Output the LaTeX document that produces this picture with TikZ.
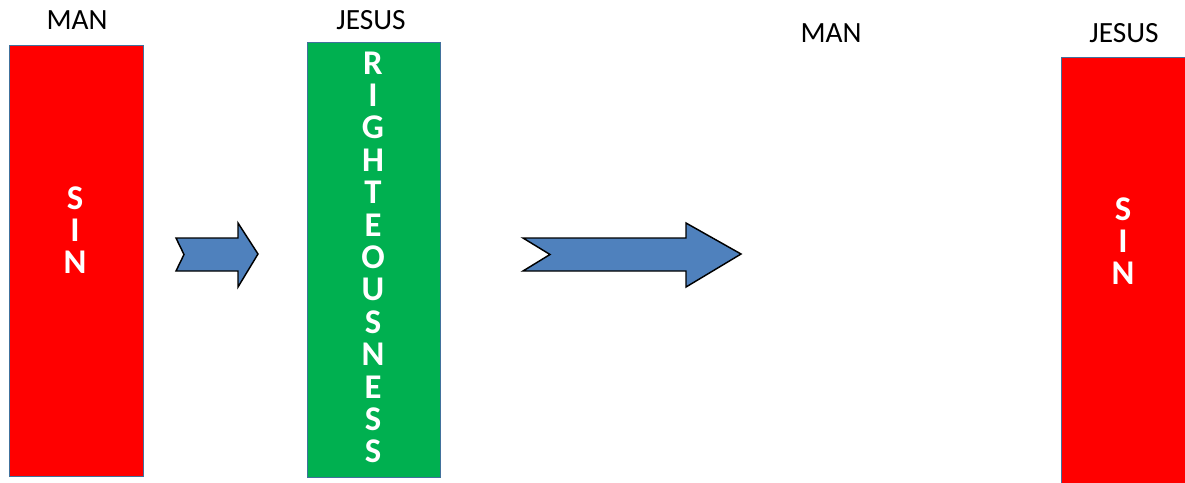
\documentclass[tikz,border=0pt]{standalone}
\usepackage{fontspec}
\setmainfont{Carlito}
\definecolor{sinred}{HTML}{FF0000}
\definecolor{rightgreen}{HTML}{00B050}
\definecolor{arrowblue}{HTML}{4F81BD}
\definecolor{edgeblue}{HTML}{41719C}
\tikzset{
  bar/.style={draw=edgeblue, line width=0.6pt},
  heading/.style={anchor=base, inner sep=0pt, font=\fontsize{22}{26}\selectfont},
  letter/.style={anchor=base, inner sep=0pt, text height=0.68em, text depth=0pt,
    text=white, font=\bfseries\fontsize{26}{28}\selectfont},
  blockarrow/.style={draw=black, fill=arrowblue, line width=1.1pt, line join=miter}
}
\begin{document}
\begin{tikzpicture}[x=0.75pt, y=-0.75pt]
  \useasboundingbox (0,0) rectangle (1185,482);
  % headings
  \node[heading] (man1) at (77,29.5) {MAN};
  \node[heading] (jes1) at (371,29.5) {JESUS};
  \node[heading] (man2) at (831,42.5) {MAN};
  \node[heading] (jes2) at (1124,42.5) {JESUS};
  % first pair of bars
  \filldraw[bar, fill=sinred] (9,45) rectangle (143,476);
  \filldraw[bar, fill=rightgreen] (307,42) rectangle (440,477);
  \foreach \ch [count=\i from 0] in {S,I,N}
    \node[letter] (sa\i) at (75,{198.5+32.4*\i+10.5}) {\ch};
  \foreach \ch [count=\i from 0] in {R,I,G,H,T,E,O,U,S,N,E,S,S}
    \node[letter] (ra\i) at (373,{63.5+32.4*\i+10.5}) {\ch};
  % block arrows
  \filldraw[blockarrow] (176,238) -- (238,238) -- (238,223) -- (258,254)
    -- (238,287) -- (238,271) -- (176,271) -- (184,254.5) -- cycle;
  \filldraw[blockarrow] (523,238) -- (686,238) -- (686,223) -- (741,254)
    -- (686,287) -- (686,271) -- (523,271) -- (550,254.5) -- cycle;
  % second bar, running off the page edge
  \begin{scope}
    \clip (0,0) rectangle (1185,482);
    \filldraw[bar, fill=sinred] (1061,57) rectangle (1195,490);
  \end{scope}
  \foreach \ch [count=\i from 0] in {S,I,N}
    \node[letter] (sb\i) at (1123,{209.5+32.4*\i+10.5}) {\ch};
\end{tikzpicture}
\end{document}
